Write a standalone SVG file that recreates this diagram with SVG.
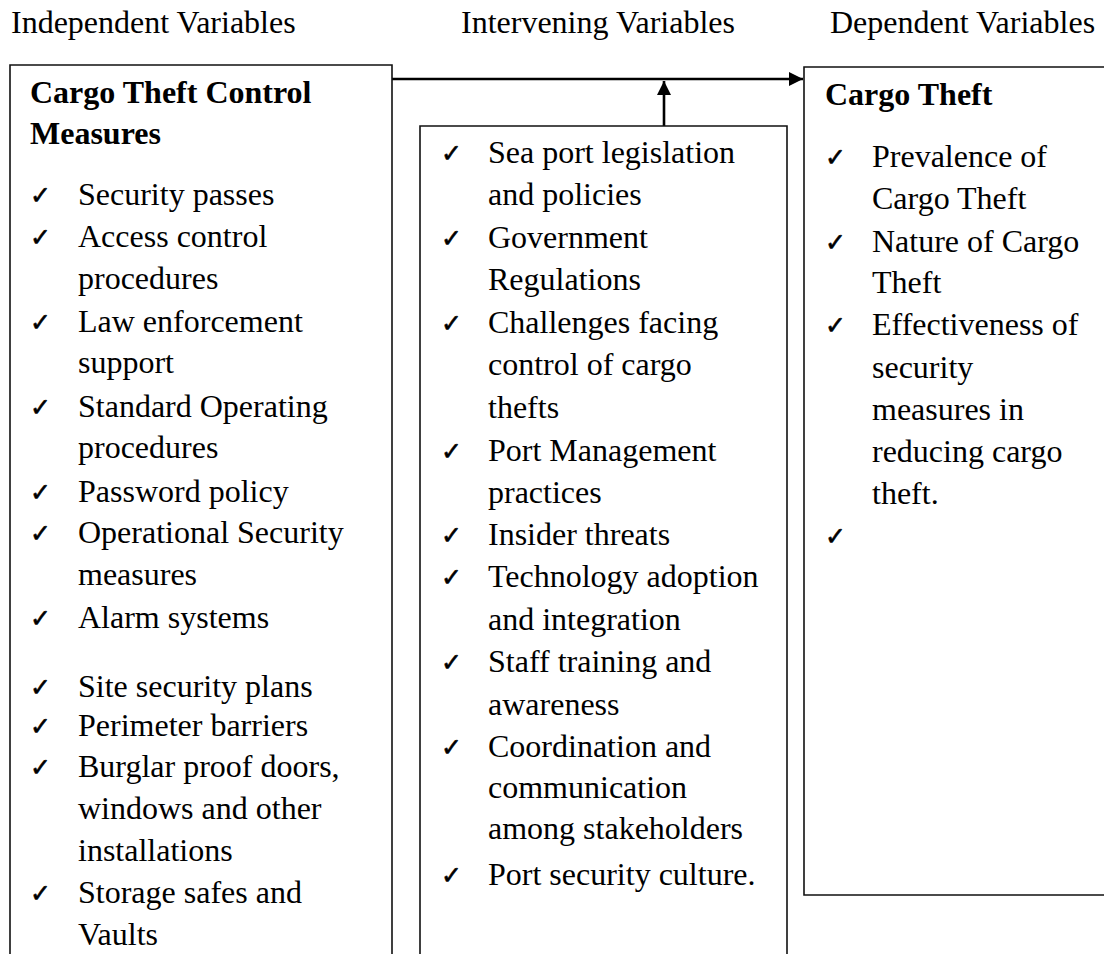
<svg xmlns="http://www.w3.org/2000/svg" width="1104" height="954" viewBox="0 0 1104 954">
<style>
.t{font-family:"Liberation Serif","Times New Roman",serif;font-size:32px;fill:#000}
.b{font-weight:bold}
.c{font-family:"DejaVu Sans",sans-serif;font-size:25px;fill:#000;stroke:#000;stroke-width:0.6}
.box{fill:none;stroke:#111;stroke-width:1.6}
.con{fill:none;stroke:#000;stroke-width:2.6}
</style>
<defs>
<marker id="ah" markerUnits="userSpaceOnUse" markerWidth="16" markerHeight="16" refX="14" refY="7" orient="auto">
<path d="M0,0 L14,7 L0,14 Z" fill="#000"/>
</marker>
</defs>
<rect width="1104" height="954" fill="#fff"/>
<g id="headers">
<text class="t" x="11" y="33">Independent Variables</text>
<text class="t" x="461" y="33">Intervening Variables</text>
<text class="t" x="830" y="33">Dependent Variables</text>
</g>
<g id="connectors">
<line class="con" x1="392" y1="79" x2="803" y2="79" marker-end="url(#ah)"/>
<line class="con" x1="664" y1="126" x2="664" y2="81" marker-end="url(#ah)"/>
</g>
<g id="independent">
<path class="box" d="M10,960 V65 H392 V960"/>
<text class="t b" x="30" y="103">Cargo Theft Control</text>
<text class="t b" x="30" y="144">Measures</text>
<g class="c">
<text x="30" y="204">✓</text>
<text x="30" y="246">✓</text>
<text x="30" y="331">✓</text>
<text x="30" y="416">✓</text>
<text x="30" y="501">✓</text>
<text x="30" y="542">✓</text>
<text x="30" y="627">✓</text>
<text x="30" y="696">✓</text>
<text x="30" y="735">✓</text>
<text x="30" y="776">✓</text>
<text x="30" y="902">✓</text>
</g>
<g class="t">
<text x="78" y="205">Security passes</text>
<text x="78" y="247">Access control</text>
<text x="78" y="289">procedures</text>
<text x="78" y="332">Law enforcement</text>
<text x="78" y="373">support</text>
<text x="78" y="417">Standard Operating</text>
<text x="78" y="458">procedures</text>
<text x="78" y="502">Password policy</text>
<text x="78" y="543">Operational Security</text>
<text x="78" y="585">measures</text>
<text x="78" y="628">Alarm systems</text>
<text x="78" y="697">Site security plans</text>
<text x="78" y="736">Perimeter barriers</text>
<text x="78" y="777">Burglar proof doors,</text>
<text x="78" y="819">windows and other</text>
<text x="78" y="861">installations</text>
<text x="78" y="903">Storage safes and</text>
<text x="78" y="945">Vaults</text>
</g>
</g>
<g id="intervening">
<path class="box" d="M420,960 V126 H787 V960"/>
<g class="c">
<text x="441" y="162">✓</text>
<text x="441" y="247">✓</text>
<text x="441" y="332">✓</text>
<text x="441" y="460">✓</text>
<text x="441" y="544">✓</text>
<text x="441" y="586">✓</text>
<text x="441" y="671">✓</text>
<text x="441" y="756">✓</text>
<text x="441" y="884">✓</text>
</g>
<g class="t">
<text x="488" y="163">Sea port legislation</text>
<text x="488" y="205">and policies</text>
<text x="488" y="248">Government</text>
<text x="488" y="290">Regulations</text>
<text x="488" y="333">Challenges facing</text>
<text x="488" y="375">control of cargo</text>
<text x="488" y="418">thefts</text>
<text x="488" y="461">Port Management</text>
<text x="488" y="503">practices</text>
<text x="488" y="545">Insider threats</text>
<text x="488" y="587">Technology adoption</text>
<text x="488" y="630">and integration</text>
<text x="488" y="672">Staff training and</text>
<text x="488" y="715">awareness</text>
<text x="488" y="757">Coordination and</text>
<text x="488" y="798">communication</text>
<text x="488" y="839">among stakeholders</text>
<text x="488" y="885">Port security culture.</text>
</g>
</g>
<g id="dependent">
<path class="box" d="M1110,67 H804 V895 H1110"/>
<text class="t b" x="825" y="105">Cargo Theft</text>
<g class="c">
<text x="825" y="166">✓</text>
<text x="825" y="251">✓</text>
<text x="825" y="334">✓</text>
<text x="825" y="545">✓</text>
</g>
<g class="t">
<text x="872" y="167">Prevalence of</text>
<text x="872" y="209">Cargo Theft</text>
<text x="872" y="252">Nature of Cargo</text>
<text x="872" y="293">Theft</text>
<text x="872" y="335">Effectiveness of</text>
<text x="872" y="378">security</text>
<text x="872" y="420">measures in</text>
<text x="872" y="462">reducing cargo</text>
<text x="872" y="504">theft.</text>
</g>
</g>
</svg>
